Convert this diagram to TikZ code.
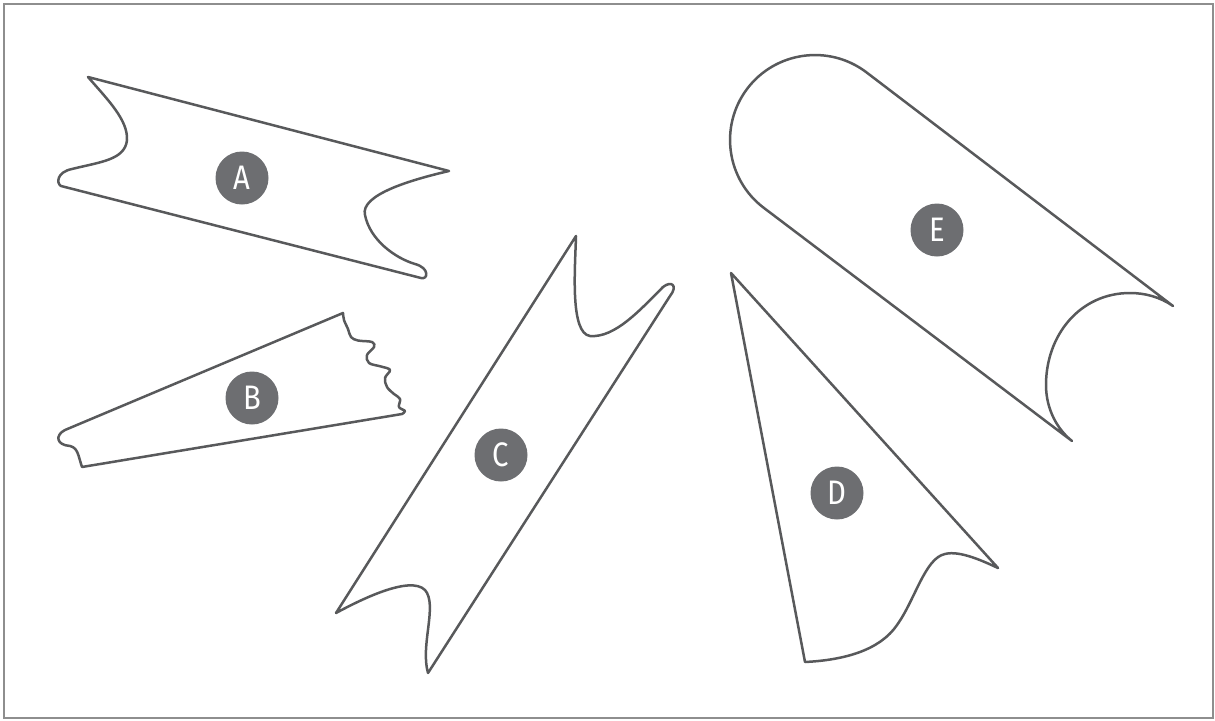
\documentclass[tikz,border=0pt]{standalone}
\usepackage{fontspec}
\newfontfamily\labfont{Fira Sans}
\definecolor{ink}{HTML}{58595B}
\definecolor{disc}{HTML}{6D6E71}
\definecolor{framec}{HTML}{8E8E8E}
\newcommand{\narrowtag}[1]{\scalebox{0.86}[1]{#1}}
\begin{document}
\begin{tikzpicture}[x=1pt,y=-1pt,
  shapeline/.style={draw=ink, line width=2.5pt, line join=round, line cap=round},
  tag/.style={circle, fill=disc, minimum size=53pt, inner sep=0pt, text=white,
    font=\labfont\fontsize{34}{34}\selectfont}]
\useasboundingbox (0,0) rectangle (1215,720);
\draw[framec, line width=2.5pt] (4,4) rectangle (1213,718);

% Shape A
\draw[shapeline] (88,77) -- (449,171)
  .. controls (410,180) and (360,195) .. (365,215)
  .. controls (370,240) and (395,258) .. (415,264)
  .. controls (430,268) and (428,280) .. (421,278)
  -- (61,186)
  .. controls (56,183) and (57,172) .. (72,169)
  .. controls (100,162) and (125,160) .. (127,140)
  .. controls (128,120) and (108,100) .. (88,77) -- cycle;

% Shape B
\draw[shapeline] (343,313) -- (65,430)
  .. controls (55,435) and (56,445) .. (70,446)
  .. controls (78,448) and (78,455) .. (82,467)
  -- plot[smooth,tension=0.6] coordinates {(402,414) (405,411) (399,407) (400,399) (394,394) (387,387) (385,378) (390,370) (381,366.5) (369,363) (367,355) (374,347) (372,342) (358,340.5) (351,337) (348,329) (344,320) (343,313)} -- cycle;

% Shape C
\draw[shapeline] (576,236) -- (336,613)
  .. controls (360,600) and (410,575) .. (425,590)
  .. controls (438,605) and (420,645) .. (428,673)
  -- (670,296)
  .. controls (678,286) and (672,280) .. (663,287)
  .. controls (640,310) and (615,338) .. (590,336)
  .. controls (570,333) and (575,270) .. (576,236) -- cycle;

% Shape D
\draw[shapeline] (731,273) -- (998,568)
  .. controls (985,562) and (960,550) .. (945,554)
  .. controls (925,558) and (915,600) .. (897,625)
  .. controls (880,650) and (845,660) .. (805,662) -- cycle;

% Shape E
\draw[shapeline] (764,208)
  .. controls (726.5,179.9) and (718.9,126.5) .. (747,89)
  .. controls (775.1,51.5) and (828.5,43.9) .. (866,72)
  -- (1173,306)
  .. controls (1160,297) and (1145,293) .. (1130,293)
  .. controls (1080,293) and (1046,335) .. (1046,385)
  .. controls (1046,410) and (1058,430) .. (1072,441)
  -- cycle;

\node[tag] (la) at (242,178) {\narrowtag{A}};
\node[tag] (lb) at (252,398) {\narrowtag{B}};
\node[tag] (lc) at (501,455) {\narrowtag{C}};
\node[tag] (ld) at (837,493) {\narrowtag{D}};
\node[tag] (le) at (937,230) {\narrowtag{E}};
\end{tikzpicture}
\end{document}
